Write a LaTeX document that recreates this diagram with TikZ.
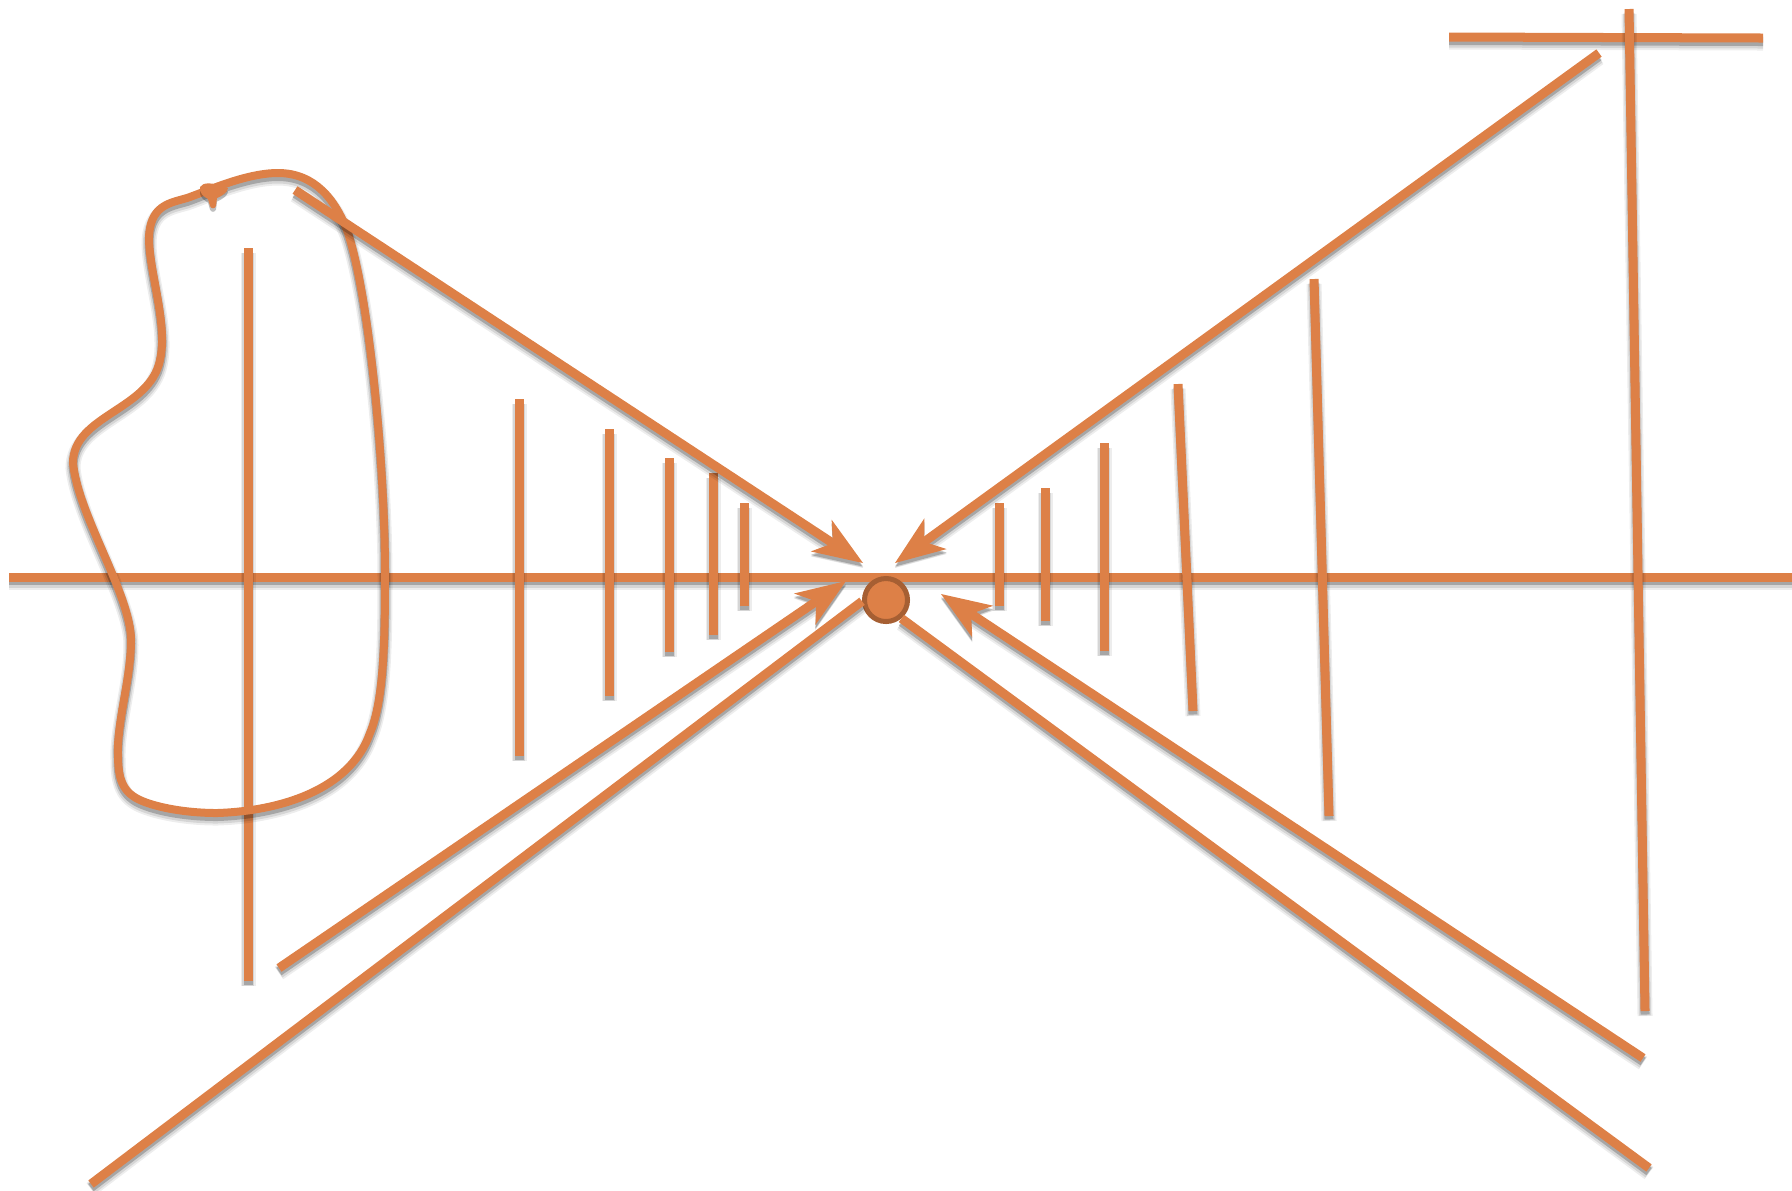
\documentclass[tikz,border=0pt]{standalone}
\usetikzlibrary{arrows.meta}
\definecolor{lineorange}{HTML}{DD8047}
\definecolor{ringbrown}{HTML}{A65F33}
\tikzset{
    shadowed/.style={
        preaction={draw=black, opacity=.07, line width=.15cm, transform canvas={shift={(0cm,-.05cm)}}},
        preaction={draw=black, opacity=.10, line width=.12cm, transform canvas={shift={(0cm,-.045cm)}}},
        preaction={draw=black, opacity=.22, line width=.09cm, transform canvas={shift={(0cm,-.035cm)}}},
    },
    ray/.style={shadowed, draw=lineorange, line width=.09cm},
    rayhead/.style={ray, -{Stealth[length=.5cm, width=.38cm, inset=.14cm, line width=0pt]}},
}
\begin{document}
\begin{tikzpicture}[x=.01cm, y=-.01cm,
    hub/.style={circle, draw=ringbrown, fill=lineorange, line width=.05cm, minimum size=.43cm, inner sep=0pt},
    blob/.style={shadowed, draw=lineorange, line width=.08cm},
    barb/.style={fill=lineorange, preaction={fill=black, opacity=.25, transform canvas={shift={(0cm,-.035cm)}}}},
]
\useasboundingbox (0,0) rectangle (1792,1190);

% end points of the axis and the top bar
\coordinate (axisL) at (9,577);
\coordinate (axisR) at (1792,577);
\coordinate (barL) at (1449,37);
\coordinate (barR) at (1763,38);

% ticks left of the centre
\coordinate (objT) at (248,248);
\coordinate (objB) at (248,981);
\coordinate (la) at (519,399);
\coordinate (lb) at (519,756);
\coordinate (ma) at (609,429);
\coordinate (mb) at (609,696);
\coordinate (na) at (669,458);
\coordinate (nb) at (669,652);
\coordinate (oa) at (713,473);
\coordinate (ob) at (713,635);
\coordinate (pa) at (744,503);
\coordinate (pb) at (744,606);

% ticks right of the centre
\coordinate (qa) at (999,503);
\coordinate (qb) at (999,606);
\coordinate (ra) at (1045,488);
\coordinate (rb) at (1045,621);
\coordinate (sa) at (1104,443);
\coordinate (sb) at (1104,651);
\coordinate (ta) at (1178,384);
\coordinate (tb) at (1193,711);
\coordinate (ua) at (1314,279);
\coordinate (ub) at (1329,816);
\coordinate (imgT) at (1629,9);
\coordinate (imgB) at (1645,1011);

% ends of the rays
\coordinate (rayAs) at (295,190);
\coordinate (rayAe) at (863,563);
\coordinate (rayBs) at (1599,53);
\coordinate (rayBe) at (895,563);
\coordinate (rayCs) at (279,968);
\coordinate (rayCe) at (846,581);
\coordinate (rayDs) at (1643,1058);
\coordinate (rayDe) at (941,594);
\coordinate (lowL) at (91,1184);
\coordinate (lowR) at (1649,1168);

\draw[ray] (axisL) -- (axisR);
\draw[ray] (barL) -- (barR);

\draw[ray] (objT) -- (objB);
\draw[ray] (la) -- (lb);
\draw[ray] (ma) -- (mb);
\draw[ray] (na) -- (nb);
\draw[ray] (oa) -- (ob);
\draw[ray] (pa) -- (pb);
\draw[ray] (qa) -- (qb);
\draw[ray] (ra) -- (rb);
\draw[ray] (sa) -- (sb);
\draw[ray] (ta) -- (tb);
\draw[ray] (ua) -- (ub);
\draw[ray] (imgT) -- (imgB);

% outline of the object
\draw[blob] (278,173) .. controls (315,173) and (336,200) .. (348,233)
    .. controls (370,300) and (385,470) .. (385,573)
    .. controls (385,640) and (384,700) .. (370,733)
    .. controls (350,790) and (280,811) .. (217,813)
    .. controls (180,813) and (145,805) .. (133,796)
    .. controls (117,785) and (118,765) .. (118,745)
    .. controls (120,710) and (131,675) .. (131,640)
    .. controls (131,595) and (78,515) .. (73,463)
    .. controls (73,415) and (150,410) .. (160,360)
    .. controls (168,325) and (150,275) .. (149,240)
    .. controls (149,205) and (170,203) .. (187,198)
    .. controls (205,192) and (245,173) .. (278,173) -- cycle;
\fill[barb] (200,187) .. controls (203,182) and (212,182) .. (228,188)
    .. controls (228,192) and (222,196) .. (217,198) -- (216,206)
    .. controls (215,209) and (211,209) .. (210,206) -- (208,199)
    .. controls (204,197) and (199,193) .. (200,187);

\draw[rayhead] (rayAs) -- (rayAe);
\draw[rayhead] (rayBs) -- (rayBe);
\draw[rayhead] (rayCs) -- (rayCe);
\draw[rayhead] (rayDs) -- (rayDe);

\node[hub] (focus) at (886,600) {};
\draw[ray] (lowL) -- (focus.183);
\draw[ray] (lowR) -- (focus.-50);
\end{tikzpicture}
\end{document}
